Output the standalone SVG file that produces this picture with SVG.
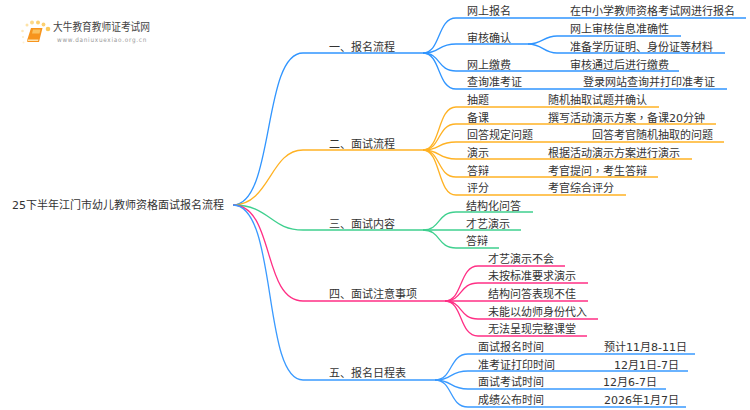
<svg xmlns="http://www.w3.org/2000/svg" width="750" height="410" viewBox="0 0 750 410">
<style>
text{font-family:"DejaVu Sans","Noto Sans CJK SC",sans-serif;font-size:11px;fill:#333}
text.brand{font-size:10.8px;fill:#444}
text.url{font-size:6.3px;fill:#999;letter-spacing:.82px}
.tc{font-family:"Noto Sans CJK TC",sans-serif}
#connectors path{fill:none;stroke-width:1.3}
.b1{stroke:#3095ff}.o{stroke:#ffb224}.g{stroke:#3fd08f}.p{stroke:#ff2f85}.b2{stroke:#3a9aff}
</style>
<rect width="750" height="410" fill="#fff"/>
<g id="logo">
<circle cx="32" cy="22.500" r="2" fill="#fcd98a"/><circle cx="38" cy="22.500" r="2" fill="#fcd070"/><circle cx="27" cy="25" r="1.500" fill="#fde3a8"/><circle cx="43.500" cy="24.500" r="1.900" fill="#fcd070"/><circle cx="48" cy="29" r="2.300" fill="#fbc95a"/><circle cx="22.500" cy="31" r="1.300" fill="#fde9bd"/><circle cx="23" cy="37" r="1.100" fill="#fdeecb"/><circle cx="23.500" cy="42.500" r="1" fill="#fdf0d5"/>
<path d="M31 28h11.500l-3.500 14h-11.500q-1-1 0-3z" fill="#f7941d"/><path d="M33 29.500h7.500l-1 4h-7.500z" fill="#fbc15e"/><path d="M28 39.500h10.500l-.5 1.500h-10.500z" fill="#fde3b0"/>
<text class="brand" x="53" y="31" textLength="97" lengthAdjust="spacingAndGlyphs">大牛教育教师证考试网</text>
<text class="url" x="57" y="41.500" textLength="90" lengthAdjust="spacingAndGlyphs">www.daniuxuexiao.org.cn</text>
</g>
<g id="connectors">
<path class="b1" d="M233 205C275 205 262 53 303 53H423"/>
<path class="o" d="M233 205C270 205 270 150 303 150H423"/>
<path class="g" d="M233 205C270 205 270 230 303 230H423"/>
<path class="p" d="M233 205C275 205 262 301 303 301H445"/>
<path class="b2" d="M233 205C278 205 262 380 303 380H435"/>
<path class="b1" d="M423 53C441 53 437 18 456 18H746"/>
<path class="b1" d="M423 53C441 53 437 44 456 44H528"/>
<path class="b1" d="M528 44C543 44 543 36 557 36H681"/>
<path class="b1" d="M528 44C543 44 543 53 557 53H725"/>
<path class="b1" d="M423 53C441 53 437 71 456 71H679"/>
<path class="b1" d="M423 53C441 53 437 89 456 89H727"/>
<path class="o" d="M423 150C441 150 437 107 456 107H659"/>
<path class="o" d="M423 150C441 150 437 124 456 124H716"/>
<path class="o" d="M423 150C441 150 437 142 456 142H724"/>
<path class="o" d="M423 150C441 150 437 159 456 159H692"/>
<path class="o" d="M423 150C441 150 437 177 456 177H658"/>
<path class="o" d="M423 150C441 150 437 195 456 195H626"/>
<path class="g" d="M423 230C441 230 437 212 456 212H533"/>
<path class="g" d="M423 230H521"/>
<path class="g" d="M423 230C441 230 437 248 456 248H499"/>
<path class="p" d="M445 301C463 301 459 266 478 266H565"/>
<path class="p" d="M445 301C463 301 459 283 478 283H588"/>
<path class="p" d="M445 301H588"/>
<path class="p" d="M445 301C463 301 459 319 478 319H598"/>
<path class="p" d="M445 301C463 301 459 336 478 336H587"/>
<path class="b2" d="M435 380C453 380 449 354 468 354H695"/>
<path class="b2" d="M435 380C453 380 449 371 468 371H688"/>
<path class="b2" d="M435 380C453 380 449 389 468 389H666"/>
<path class="b2" d="M435 380C453 380 449 407 468 407H686"/>
</g>
<g id="root"><text x="12" y="209">25下半年江门市幼儿教师资格面试报名流程</text></g>
<g id="n1"><text x="329" y="51">一、报名流程</text></g>
<g id="n1-1"><text x="467" y="15">网上报名</text><text x="570" y="15">在中小学教师资格考试网进行报名</text></g>
<g id="n1-2"><text x="467" y="42">审核确认</text></g>
<g id="n1-2-1"><text x="570" y="33">网上审核信息准确性</text></g>
<g id="n1-2-2"><text x="570" y="51">准备学历证明、身份证等材料</text></g>
<g id="n1-3"><text x="467" y="69">网上缴费</text><text x="570" y="69">审核通过后进行缴费</text></g>
<g id="n1-4"><text x="467" y="86">查询准考证</text><text x="583" y="86">登录网站查询并打印准考证</text></g>
<g id="n2"><text x="329" y="148">二、面试流程</text></g>
<g id="n2-1"><text x="467" y="104">抽题</text><text x="548" y="104">随机抽取试题并确认</text></g>
<g id="n2-2"><text x="467" y="122">备课</text><text x="548" y="122">撰写活动演示方案<tspan class="tc">，</tspan>备课20分钟</text></g>
<g id="n2-3"><text x="467" y="139">回答规定问题</text><text x="592" y="139">回答考官随机抽取的问题</text></g>
<g id="n2-4"><text x="467" y="157">演示</text><text x="548" y="157">根据活动演示方案进行演示</text></g>
<g id="n2-5"><text x="467" y="175">答辩</text><text x="548" y="175">考官提问<tspan class="tc">，</tspan>考生答辩</text></g>
<g id="n2-6"><text x="467" y="192">评分</text><text x="548" y="192">考官综合评分</text></g>
<g id="n3"><text x="329" y="228">三、面试内容</text></g>
<g id="n3-1"><text x="466" y="210">结构化问答</text></g>
<g id="n3-2"><text x="466" y="228">才艺演示</text></g>
<g id="n3-3"><text x="466" y="245">答辩</text></g>
<g id="n4"><text x="329" y="298">四、面试注意事项</text></g>
<g id="n4-1"><text x="488" y="263">才艺演示不会</text></g>
<g id="n4-2"><text x="488" y="280">未按标准要求演示</text></g>
<g id="n4-3"><text x="488" y="298">结构问答表现不佳</text></g>
<g id="n4-4"><text x="488" y="316">未能以幼师身份代入</text></g>
<g id="n4-5"><text x="488" y="333">无法呈现完整课堂</text></g>
<g id="n5"><text x="329" y="377">五、报名日程表</text></g>
<g id="n5-1"><text x="478" y="351">面试报名时间</text><text x="604" y="351">预计11月8-11日</text></g>
<g id="n5-2"><text x="478" y="369">准考证打印时间</text><text x="614" y="369">12月1日-7日</text></g>
<g id="n5-3"><text x="478" y="386">面试考试时间</text><text x="603" y="386">12月6-7日</text></g>
<g id="n5-4"><text x="478" y="404">成绩公布时间</text><text x="604" y="404">2026年1月7日</text></g>
</svg>
